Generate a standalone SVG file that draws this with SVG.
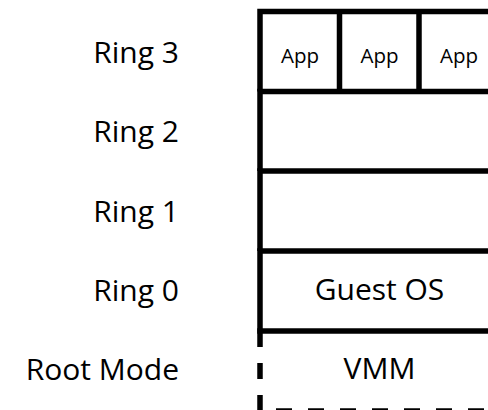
<svg xmlns="http://www.w3.org/2000/svg" width="488" height="410" viewBox="0 0 488 410">
  <style>
    .label { font-family: "Open Sans", "Noto Sans", "DejaVu Sans", sans-serif; font-size: 30px; fill: #000; }
    .ring { text-anchor: end; }
    .mid { text-anchor: middle; }
    .app { font-family: "Open Sans", "Noto Sans", "DejaVu Sans", sans-serif; font-size: 20.5px; fill: #000; text-anchor: middle; }
    .edge { fill: none; stroke: #000; stroke-width: 5.5; }
    .dash { stroke-dasharray: 16 16; stroke-linecap: butt; }
  </style>
  <rect width="488" height="410" fill="#fff"/>

  <!-- privilege level names, right-aligned against the stack -->
  <g id="levels">
    <g id="level-ring3"><text class="label ring" x="179" y="63">Ring 3</text></g>
    <g id="level-ring2"><text class="label ring" x="179" y="142">Ring 2</text></g>
    <g id="level-ring1"><text class="label ring" x="179" y="222">Ring 1</text></g>
    <g id="level-ring0"><text class="label ring" x="179" y="301">Ring 0</text></g>
    <g id="level-root"><text class="label ring" x="179" y="380">Root Mode</text></g>
  </g>

  <!-- the software stack: one band per level -->
  <g id="stack">
    <g id="apps">
      <path class="edge" d="M500 11.5 H260 V91.5"/>
      <path class="edge" d="M339.5 11.5 V91.5 M419 11.5 V91.5"/>
      <g id="app-1"><text class="app" x="300" y="63">App</text></g>
      <g id="app-2"><text class="app" x="379.5" y="63">App</text></g>
      <g id="app-3"><text class="app" x="459" y="63">App</text></g>
    </g>
    <g id="ring2-band">
      <path class="edge" d="M257.25 91.5 H500 M260 91.5 V171"/>
    </g>
    <g id="ring1-band">
      <path class="edge" d="M257.25 171 H500 M260 171 V251"/>
    </g>
    <g id="guest-os">
      <path class="edge" d="M257.25 251 H500 M260 251 V331"/>
      <text class="label mid" x="379.5" y="300">Guest OS</text>
    </g>
    <g id="vmm">
      <path class="edge" d="M257.25 331 H500"/>
      <path class="edge dash" d="M260 331 V411 H500"/>
      <text class="label mid" x="379.5" y="379">VMM</text>
    </g>
  </g>
</svg>
